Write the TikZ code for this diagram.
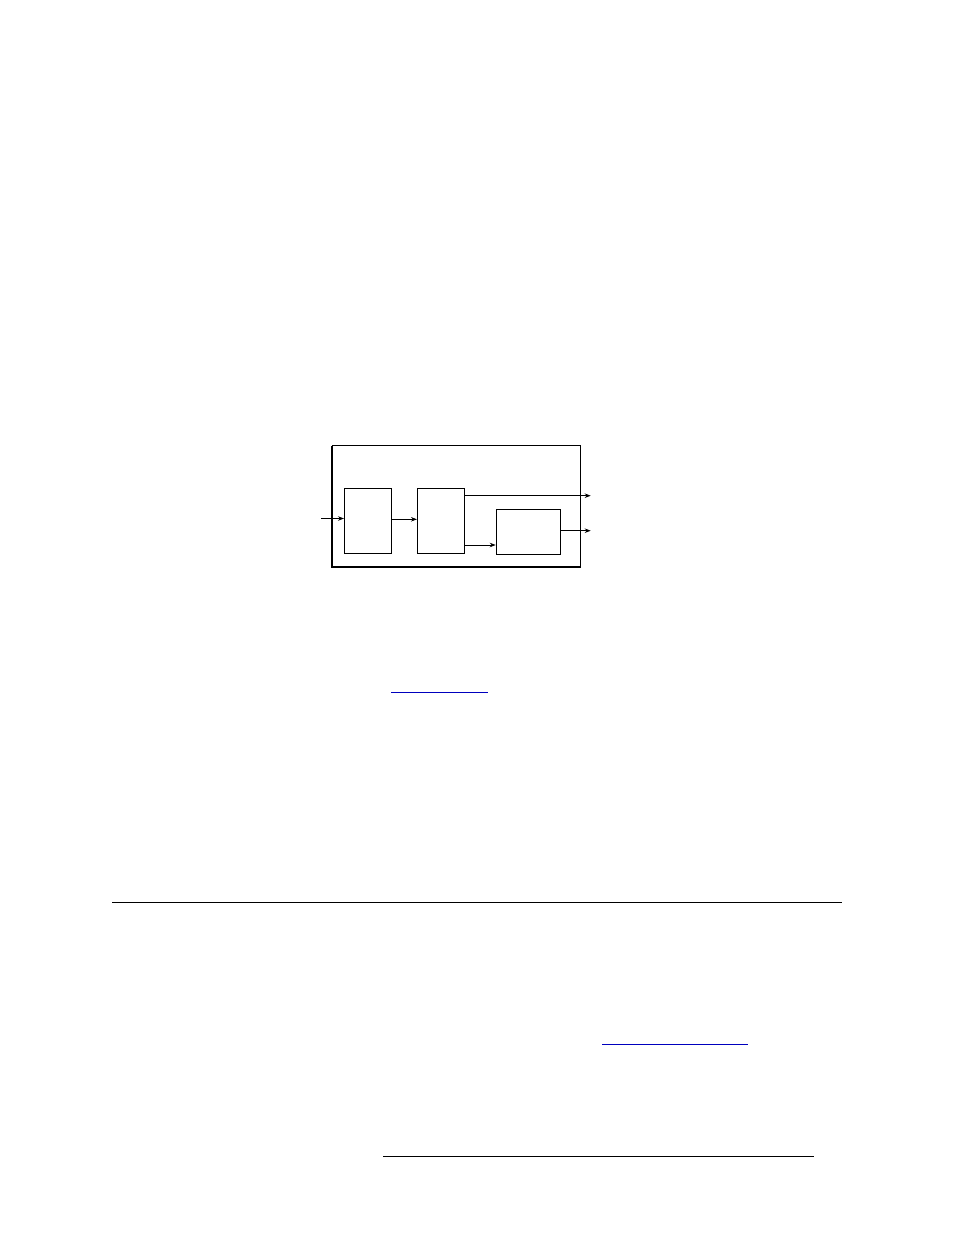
\documentclass[tikz,border=0pt]{standalone}
\usetikzlibrary{arrows.meta}
\definecolor{linkblue}{RGB}{0,0,190}
\begin{document}
\begin{tikzpicture}[x=1pt,y=-1pt,
  blk/.style={draw=black,line width=0.7pt,inner sep=0pt,minimum width=47.4pt,minimum height=65pt},
  conn/.style={line width=0.8pt,-{Stealth[length=6pt,width=4.5pt]}},
  rule/.style={line width=1pt},
  link/.style={draw=linkblue,line width=1pt}]
\useasboundingbox (0,0) rectangle (954,1235);
% outer frame
\node[draw=black,line width=0.7pt,inner sep=0pt,minimum width=248.7pt,minimum height=121.3pt] (frame) at (456.35,506.35) {};
\draw[line width=2pt,line join=miter] ([yshift=-0.35pt]frame.north west) -- (frame.south west) -- ([xshift=0.35pt]frame.south east);
% blocks
\node[blk] (b1) at (368,520.8) {};
\node[blk] (b2) at (441,520.8) {};
\node[blk,minimum width=64.3pt,minimum height=45pt] (b3) at (528.2,531.8) {};
% connector end points
\coordinate (in) at (321,518.5);
\coordinate (o1) at (590.7,495.7);
\coordinate (o2) at (590.7,530.7);
\coordinate (y12) at (0,519.3);
\coordinate (y23) at (0,545);
% connectors
\draw[conn] (in) -- (in -| b1.west);
\draw[conn] (b1.east |- y12) -- (b2.west |- y12);
\draw[conn] (b2.east |- o1) -- (o1);
\draw[conn] (b2.east |- y23) -- (b3.west |- y23);
\draw[conn] (b3.east |- o2) -- (o2);
% page rules and link underlines
\coordinate (r1a) at (112,902.3); \coordinate (r1b) at (841.7,902.3);
\coordinate (r2a) at (383,1156.7); \coordinate (r2b) at (813.7,1156.7);
\coordinate (l1a) at (391,692.3); \coordinate (l1b) at (487.7,692.3);
\coordinate (l2a) at (602,1044.3); \coordinate (l2b) at (747.7,1044.3);
\draw[rule] (r1a) -- (r1b);
\draw[rule] (r2a) -- (r2b);
\draw[link] (l1a) -- (l1b);
\draw[link] (l2a) -- (l2b);
\end{tikzpicture}
\end{document}
